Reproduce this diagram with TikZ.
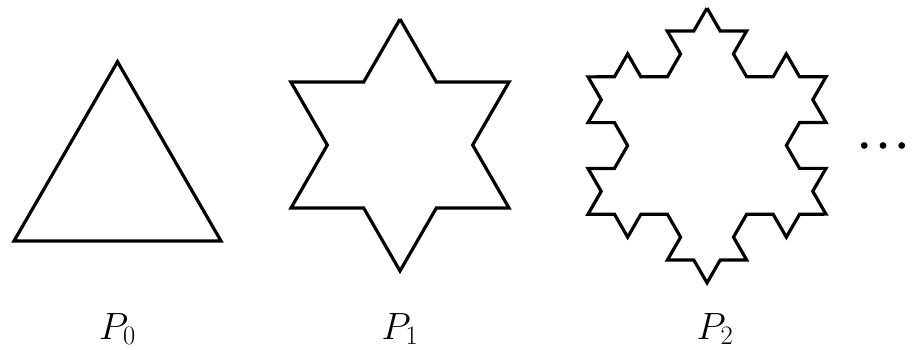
\documentclass[tikz,border=0pt]{standalone}
\usepackage{fix-cm}
\usepackage{fontspec}
\newfontfamily\dotsfont{Liberation Serif}
\usetikzlibrary{decorations.fractals}

\begin{document}
\begin{tikzpicture}[x=1pt,y=-1pt,
    curve/.style={line width=3.2pt, line join=miter},
    lbl/.style={anchor=base, inner sep=0pt, font=\fontsize{38}{44}\selectfont}]
  \useasboundingbox (0,0) rectangle (912,349);
  % P0
  \coordinate (a0) at (117.5,61.7);
  \coordinate (b0) at (14,241);
  \coordinate (c0) at (221,241);
  \draw[curve] (a0) -- (c0) -- (b0) -- cycle;
  % P1
  \coordinate (a1) at (400,19.1);
  \coordinate (b1) at (291,208);
  \coordinate (c1) at (509,208);
  \draw[curve, decoration=Koch snowflake]
    decorate{(a1) -- (c1) -- (b1) -- cycle};
  % P2
  \coordinate (a2) at (707,8.1);
  \coordinate (b2) at (588,214.2);
  \coordinate (c2) at (826,214.2);
  \draw[curve, decoration=Koch snowflake]
    decorate{decorate{(a2) -- (c2) -- (b2) -- cycle}};
  % labels
  \node[lbl] (p0) at (117.5,339) {$P_0$};
  \node[lbl] (p1) at (400,339) {$P_1$};
  \node[lbl] (p2) at (715,339) {$P_2$};
  \node[inner sep=0pt, font=\dotsfont\fontsize{56}{60}\selectfont] (dots) at (883.5,145.7) {…};
\end{tikzpicture}
\end{document}
